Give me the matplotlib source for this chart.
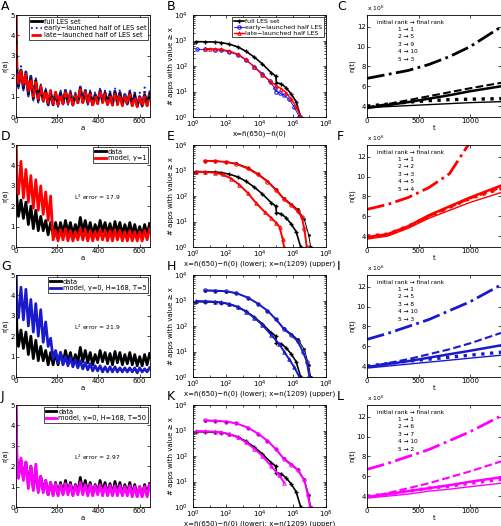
import matplotlib
matplotlib.use("Agg")
import matplotlib.pyplot as plt
from matplotlib.ticker import LogLocator, NullFormatter

# ---- r(a): age in hours, values at alternating troughs / peaks ----
a_hours = [0, 4] + list(range(12, 649, 12))

r_data = [5.0, 2.4,
          1.5, 2.3, 1.4, 2.2, 1.1, 2.0,
          0.9, 1.8, 0.8, 1.5, 0.8, 1.3,
          0.6, 1.2, 0.6, 1.2, 0.6, 1.2,
          0.65, 1.3, 0.7, 1.2, 0.6, 1.1,
          0.7, 1.45, 0.75, 1.3, 0.7, 1.2,
          0.6, 1.1, 0.7, 1.3, 0.75, 1.2,
          0.65, 1.15, 0.6, 1.25, 0.7, 1.2,
          0.6, 1.1, 0.65, 1.2, 0.6, 1.1,
          0.55, 1.0, 0.55, 1.1, 0.6, 1.15]
r_early = [5.0, 2.8,
           1.4, 2.5, 1.3, 2.3, 1.0, 2.1,
           0.8, 1.9, 0.7, 1.6, 0.7, 1.4,
           0.5, 1.3, 0.55, 1.3, 0.5, 1.35,
           0.6, 1.4, 0.6, 1.3, 0.55, 1.2,
           0.65, 1.5, 0.7, 1.4, 0.6, 1.3,
           0.55, 1.25, 0.65, 1.45, 0.7, 1.3,
           0.6, 1.35, 0.55, 1.45, 0.65, 1.35,
           0.55, 1.2, 0.6, 1.4, 0.55, 1.3,
           0.5, 1.2, 0.5, 1.45, 0.55, 1.3]
r_late = [5.0, 2.3,
          1.6, 2.3, 1.5, 2.1, 1.2, 1.9,
          1.0, 1.7, 0.9, 1.5, 0.8, 1.3,
          0.7, 1.3, 0.65, 1.2, 0.6, 1.15,
          0.65, 1.2, 0.7, 1.15, 0.6, 1.05,
          0.7, 1.35, 0.7, 1.2, 0.65, 1.1,
          0.6, 1.05, 0.65, 1.2, 0.7, 1.1,
          0.6, 1.05, 0.6, 1.1, 0.6, 1.1,
          0.55, 1.0, 0.6, 1.1, 0.55, 1.0,
          0.5, 0.95, 0.5, 1.0, 0.55, 1.1]
r_model_g1 = [5.0, 3.2,
              2.6, 4.2, 2.4, 3.8, 2.2, 3.5,
              1.9, 3.3, 1.8, 3.0, 1.6, 2.7,
              1.3, 2.5, 0.35, 0.8, 0.3, 0.85,
              0.35, 0.9, 0.3, 0.8, 0.3, 0.75,
              0.35, 0.9, 0.35, 0.85, 0.3, 0.8,
              0.3, 0.75, 0.35, 0.85, 0.35, 0.8,
              0.3, 0.8, 0.3, 0.85, 0.35, 0.8,
              0.3, 0.75, 0.3, 0.8, 0.3, 0.75,
              0.3, 0.75, 0.3, 0.8, 0.35, 0.9]
r_model_t5 = [5.0, 3.6,
              2.9, 4.4, 2.8, 4.3, 2.5, 3.8,
              2.2, 3.6, 2.0, 3.3, 1.7, 2.7,
              1.5, 1.9, 0.9, 1.3, 0.7, 1.2,
              0.6, 1.0, 0.55, 0.95, 0.5, 0.85,
              0.45, 0.8, 0.4, 0.7, 0.35, 0.65,
              0.3, 0.55, 0.3, 0.55, 0.25, 0.5,
              0.25, 0.5, 0.25, 0.5, 0.25, 0.45,
              0.25, 0.45, 0.25, 0.45, 0.25, 0.45,
              0.2, 0.45, 0.25, 0.4, 0.25, 0.45]
r_model_t50 = [5.0, 2.4,
               1.4, 2.4, 1.3, 2.2, 0.9, 2.0,
               0.8, 2.1, 0.7, 1.5, 0.7, 1.3,
               0.6, 1.2, 0.55, 1.15, 0.55, 1.1,
               0.6, 1.15, 0.6, 1.1, 0.55, 1.05,
               0.6, 1.2, 0.6, 1.1, 0.55, 1.1,
               0.55, 1.05, 0.6, 1.1, 0.55, 1.05,
               0.55, 1.05, 0.55, 1.05, 0.55, 1.05,
               0.55, 1.0, 0.55, 1.05, 0.5, 1.0,
               0.5, 1.0, 0.5, 1.0, 0.5, 1.1]

# ---- CCDFs (# apps with value >= x) ----
full_x = [1.6, 5, 20, 50, 150, 500, 1500, 5000, 15000, 50000, 95000, 105000,
          200000, 400000, 800000, 1600000, 3000000]
full_y = [900, 890, 870, 830, 720, 560, 380, 220, 120, 55, 40, 22, 20, 14, 8, 4, 1]
early_x = [1.7, 5, 20, 50, 150, 500, 1500, 5000, 15000, 40000, 80000, 100000,
           160000, 300000, 600000, 1200000, 2500000]
early_y = [450, 445, 430, 410, 360, 270, 170, 95, 50, 25, 14, 10, 9, 7, 5, 2.5, 1]
late_x = [5, 10, 20, 50, 150, 500, 1500, 5000, 15000, 50000, 100000, 200000,
          400000, 800000, 1600000, 3000000]
late_y = [480, 475, 470, 450, 390, 290, 180, 90, 45, 24, 17, 13, 9, 5, 2.5, 1]

upper_x = [5, 20, 100, 400, 2000, 8000, 30000, 100000, 300000, 800000,
           2000000, 5000000, 9000000, 12000000]
upper_y = [2400, 2350, 2200, 1900, 1300, 750, 400, 180, 80, 50, 30, 12, 3, 1]

g1_up_x = [5, 20, 100, 400, 2000, 8000, 30000, 100000, 300000, 800000,
           2000000, 3500000, 5000000, 7000000]
g1_up_y = [2400, 2350, 2150, 1800, 1200, 700, 370, 170, 75, 45, 25, 15, 5, 1]
g1_lo_x = [1.6, 5, 20, 60, 200, 600, 2000, 6000, 20000, 50000, 100000, 160000,
           250000, 300000]
g1_lo_y = [900, 880, 820, 700, 480, 280, 130, 55, 24, 14, 9, 6, 2, 1]

t5_up_x = [5, 20, 100, 400, 2000, 8000, 30000, 100000, 300000, 800000,
           2000000, 4000000, 7000000, 10000000]
t5_up_y = [2500, 2450, 2300, 1950, 1300, 750, 400, 180, 75, 45, 25, 10, 4, 1]
t5_lo_x = [1.6, 5, 20, 50, 150, 500, 1500, 5000, 15000, 50000, 150000, 300000,
           600000, 1200000, 2500000]
t5_lo_y = [950, 940, 900, 850, 730, 560, 370, 210, 110, 45, 20, 10, 5, 2.5, 1]

t50_up_x = [5, 20, 100, 400, 2000, 8000, 30000, 100000, 300000, 800000,
            2000000, 5000000, 8000000, 11000000]
t50_up_y = [2500, 2450, 2250, 1900, 1300, 760, 400, 180, 75, 45, 28, 11, 3, 1]
t50_lo_x = [1.6, 5, 20, 50, 150, 500, 1500, 5000, 15000, 50000, 150000, 300000]
t50_lo_y = [950, 940, 900, 850, 720, 540, 350, 190, 100, 40, 18, 9]

# ---- n(t) of the top-5 apps (x 10^6) ----
t_days = [0, 200, 400, 600, 800, 1000, 1300]
n_data = {1: [6.8, 7.2, 7.6, 8.2, 9.0, 10.0, 12.0],
          2: [3.8, 4.1, 4.4, 4.75, 5.1, 5.5, 6.0],
          3: [4.0, 4.2, 4.4, 4.55, 4.65, 4.7, 4.75],
          4: [3.85, 3.95, 4.05, 4.15, 4.25, 4.35, 4.45],
          5: [3.9, 4.2, 4.6, 5.0, 5.4, 5.8, 6.35]}
n_g1 = {1: [6.7, 7.2, 7.9, 8.9, 10.3, 13.5, 20.0],
        2: [3.9, 4.2, 5.0, 6.1, 7.0, 7.9, 9.1],
        3: [4.0, 4.2, 5.0, 6.0, 6.9, 7.8, 8.8],
        4: [3.7, 4.0, 4.8, 5.8, 6.6, 7.4, 8.4],
        5: [3.8, 4.1, 4.9, 6.0, 6.9, 7.8, 8.9]}
n_t5 = {1: [6.7, 7.3, 8.0, 8.7, 9.6, 10.5, 12.2],
        2: [3.9, 4.2, 4.5, 4.85, 5.2, 5.55, 6.1],
        3: [4.0, 4.25, 4.5, 4.7, 4.9, 5.1, 5.4],
        4: [3.8, 4.0, 4.2, 4.4, 4.6, 4.8, 5.1],
        5: [3.9, 4.3, 4.7, 5.2, 5.7, 6.3, 7.35]}
n_t50 = {1: [6.7, 7.3, 8.0, 8.7, 9.6, 10.5, 12.1],
         2: [3.9, 4.2, 4.5, 4.8, 5.1, 5.45, 5.9],
         3: [4.0, 4.2, 4.5, 4.8, 5.0, 5.3, 5.7],
         4: [3.8, 4.0, 4.2, 4.5, 4.7, 4.95, 5.3],
         5: [3.9, 4.3, 4.8, 5.3, 5.9, 6.5, 7.5]}
final_rank_data = [1, 5, 9, 10, 3]
final_rank_g1 = [1, 2, 3, 5, 4]
final_rank_t5 = [1, 5, 8, 10, 3]
final_rank_t50 = [1, 6, 7, 10, 2]

rank_styles = {1: ("-.", 2.0), 2: ("-", 1.8), 3: (":", 2.4), 4: ("-", 1.0), 5: ("--", 1.5)}

RED = "#ff0000"
BLUE = "#1a1acc"
MAG = "#ff00ff"
FS = 5.0

fig = plt.figure(figsize=(5.02, 5.26), dpi=100)
W, H = 502.0, 526.0


def px_axes(left, top, w, h):
    return fig.add_axes([left / W, 1 - (top + h) / H, w / W, h / H])


def finish(ax):
    ax.tick_params(which="both", direction="in", top=True, right=True,
                   labelsize=FS, pad=1.0, width=0.5)
    ax.tick_params(which="major", length=2.5)
    ax.tick_params(which="minor", length=1.2)
    for s in ax.spines.values():
        s.set_linewidth(0.6)


def small_legend(ax, size):
    leg = ax.legend(loc="upper right", fontsize=size, handlelength=1.6, handletextpad=0.3,
                    borderpad=0.25, labelspacing=0.1, borderaxespad=0.3,
                    fancybox=False, framealpha=1)
    leg.get_frame().set_edgecolor("black")
    leg.get_frame().set_linewidth(0.5)


def r_panel(ax, series, err=None):
    for y, color, ls, lw, label in series:
        ax.plot(a_hours, y, color=color, ls=ls, lw=lw, label=label)
    ax.set_xlim(0, 650)
    ax.set_ylim(0, 5)
    ax.set_xticks([0, 200, 400, 600])
    ax.set_yticks([0, 1, 2, 3, 4, 5])
    ax.set_xlabel("a", fontsize=FS, labelpad=0.5)
    ax.set_ylabel("r(a)", fontsize=FS, labelpad=1)
    small_legend(ax, 4.8)
    if err is not None:
        ax.text(280, 2.3, r"L$^2$ error = " + err, fontsize=4.3)
    finish(ax)


def ccdf_axes(ax, xlabel):
    ax.set_xscale("log")
    ax.set_yscale("log")
    ax.set_xlim(1, 1e8)
    ax.set_ylim(1, 1e4)
    ax.set_xticks([1, 1e2, 1e4, 1e6, 1e8])
    ax.set_yticks([1, 10, 100, 1e3, 1e4])
    ax.xaxis.set_minor_locator(LogLocator(base=10, subs=(10.0,), numticks=20))
    ax.yaxis.set_minor_locator(LogLocator(base=10, subs=(2, 3, 4, 5, 6, 7, 8, 9), numticks=20))
    ax.xaxis.set_minor_formatter(NullFormatter())
    ax.yaxis.set_minor_formatter(NullFormatter())
    ax.set_xlabel(xlabel, fontsize=FS, labelpad=0.3)
    ax.set_ylabel("# apps with value \u2265 x", fontsize=FS, labelpad=0.5)
    finish(ax)
    ax.tick_params(axis="y", which="major", pad=3.5)


def rank_panel(ax, lines, color, finals):
    for k in [1, 2, 3, 4, 5]:
        ls, lw = rank_styles[k]
        ax.plot(t_days, lines[k], color=color, ls=ls, lw=lw)
    ax.set_xlim(0, 1300)
    ax.set_ylim(2.9, 13.2)
    ax.set_xticks([0, 500, 1000])
    ax.set_yticks([4, 6, 8, 10, 12])
    ax.set_xlabel("t", fontsize=FS, labelpad=0.5)
    ax.set_ylabel("n(t)", fontsize=FS, labelpad=1)
    ax.text(0, 1.015, r"x 10$^6$", transform=ax.transAxes, fontsize=4.3, va="bottom")
    ax.text(0.075, 0.93, "initial rank \u2192 final rank", transform=ax.transAxes,
            fontsize=4.2, va="center")
    for i, f in enumerate(finals):
        ax.text(0.23, 0.86 - 0.074 * i, "%d \u2192 %d" % (i + 1, f),
                transform=ax.transAxes, fontsize=4.2, va="center")
    finish(ax)


lefts = [16, 193, 367]
widths = [134, 133, 134]
tops = [15, 145, 275, 405]
hgt = 102
xlab_two = "x=\u00f1(650)\u2212\u00f1(0) (lower); x=n(1209) (upper)"

# row 1
ax = px_axes(lefts[0], tops[0], widths[0], hgt)
r_panel(ax, [(r_data, "black", "-", 2.0, "full LES set"),
             (r_early, BLUE, ":", 1.3, "early\u2212launched half of LES set"),
             (r_late, RED, "--", 2.0, "late\u2212launched half of LES set")])

ax = px_axes(lefts[1], tops[0], widths[1], hgt)
ax.plot(full_x, full_y, color="black", marker="+", ms=3, lw=1.2, label="full LES set")
ax.plot(early_x, early_y, color="blue", marker="o", ms=2.5, mfc="none", mew=0.7,
        lw=0.6, label="early\u2212launched half LES")
ax.plot(late_x, late_y, color=RED, marker="^", ms=2.5, mfc="none", mew=0.7,
        lw=1.0, label="late\u2212launched half LES")
ccdf_axes(ax, "x=\u00f1(650)\u2212\u00f1(0)")
small_legend(ax, 4.5)

ax = px_axes(lefts[2], tops[0], widths[2], hgt)
rank_panel(ax, n_data, "black", final_rank_data)

# rows 2-4: model comparisons
models = [
    (r_model_g1, RED, "model, \u03b3=1", "17.9", g1_up_x, g1_up_y, g1_lo_x, g1_lo_y, n_g1, final_rank_g1),
    (r_model_t5, BLUE, "model, \u03b3=0, H=168, T=5", "21.9", t5_up_x, t5_up_y, t5_lo_x, t5_lo_y, n_t5, final_rank_t5),
    (r_model_t50, MAG, "model, \u03b3=0, H=168, T=50", "2.97", t50_up_x, t50_up_y, t50_lo_x, t50_lo_y, n_t50, final_rank_t50),
]
for row, (r_mod, col, lab, err, ux, uy, lx, ly, nt, finals) in enumerate(models, start=1):
    ax = px_axes(lefts[0], tops[row], widths[0], hgt)
    r_panel(ax, [(r_data, "black", "-", 2.0, "data"),
                 (r_mod, col, "-", 2.0, lab)], err=err)

    ax = px_axes(lefts[1], tops[row], widths[1], hgt)
    ax.plot(upper_x, upper_y, color="black", marker=".", ms=2, lw=0.7)
    ax.plot(ux, uy, color=col, marker="o", ms=2.5, mfc="none", mew=0.7, lw=1.4)
    ax.plot(full_x, full_y, color="black", marker="+", ms=3, lw=1.2)
    ax.plot(lx, ly, color=col, marker="^", ms=2.5, mfc="none", mew=0.7, lw=1.4)
    ccdf_axes(ax, xlab_two)

    ax = px_axes(lefts[2], tops[row], widths[2], hgt)
    rank_panel(ax, nt, col, finals)

# panel letters
letters = "ABCDEFGHIJKL"
letter_x = [1, 167, 337]
for i, ch in enumerate(letters):
    r, c = divmod(i, 3)
    fig.text(letter_x[c] / W, 1 - (0 + 130 * r) / H, ch, fontsize=9,
             va="top", ha="left")

fig.savefig("out.png", dpi=100)
